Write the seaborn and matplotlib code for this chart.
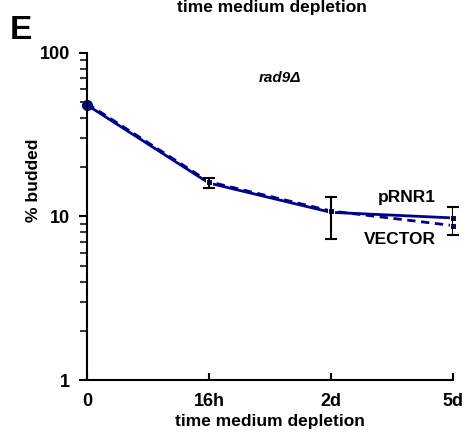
import numpy as np
import pandas as pd
import seaborn as sns
import matplotlib
matplotlib.use('Agg')
import matplotlib.pyplot as plt
from matplotlib.ticker import LogLocator, NullFormatter, FixedLocator

sns.set_style('ticks')
plt.rcParams['font.family'] = ['Liberation Sans', 'DejaVu Sans']
plt.rcParams['font.weight'] = 'bold'
plt.rcParams['text.color'] = 'black'
plt.rcParams['axes.labelcolor'] = 'black'

time_labels = ['0', '16h', '2d', '5d']
prnr1 = [48, 16.0, 10.6, 9.8]
vector = [49, 16.3, 10.8, 8.8]
err_low = [48, 15.0, 7.3, 7.7]
err_high = [48, 17.2, 13.2, 11.4]

pos = np.arange(len(time_labels))
df = pd.DataFrame({
    'pos': np.concatenate([pos, pos]),
    'budded': prnr1 + vector,
    'strain': ['pRNR1'] * 4 + ['VECTOR'] * 4,
})

fig = plt.figure(figsize=(4.65, 4.4), dpi=100)
ax = fig.add_axes([0.187, 0.136, 0.787, 0.744])

navy = '#00008B'
sns.lineplot(data=df, x='pos', y='budded', hue='strain', style='strain',
             palette={'pRNR1': navy, 'VECTOR': navy},
             dashes={'pRNR1': '', 'VECTOR': (3, 2)},
             markers={'pRNR1': 's', 'VECTOR': 's'}, markersize=5,
             linewidth=2, legend=False, ax=ax)

# first point drawn as a slightly bigger blob like the original
ax.plot(pos[:1], prnr1[:1], 'o', color=navy, markersize=7, clip_on=False)

mid = np.array(prnr1)
ax.errorbar(pos[1:], mid[1:], yerr=[mid[1:] - np.array(err_low[1:]), np.array(err_high[1:]) - mid[1:]],
            fmt='none', ecolor='black', elinewidth=1.5, capsize=4, capthick=1.5)

ax.set_yscale('log')
ax.set_ylim(1, 100)
ax.set_xlim(0, 3)
ax.yaxis.set_major_locator(FixedLocator([1, 10, 100]))
ax.set_yticklabels(['1', '10', '100'])
ax.yaxis.set_minor_locator(LogLocator(base=10, subs=np.arange(2, 10)))
ax.yaxis.set_minor_formatter(NullFormatter())
ax.set_xticks(pos)
ax.set_xticklabels(time_labels)

for s in ['top', 'right']:
    ax.spines[s].set_visible(False)
for s in ['left', 'bottom']:
    ax.spines[s].set_linewidth(1.5)
    ax.spines[s].set_color('black')
ax.tick_params(axis='y', which='major', direction='out', length=6, width=1.5,
               labelsize=13, colors='black', pad=6)
ax.tick_params(axis='y', which='minor', direction='out', length=5, width=1.3)
ax.tick_params(axis='x', which='major', direction='in', length=5, width=1.5,
               labelsize=13, colors='black', pad=9)

ax.set_xlabel('time medium depletion', fontsize=12.5, fontweight='bold', labelpad=3)
ax.set_ylabel('% budded', fontsize=12.5, fontweight='bold')
ax.yaxis.set_label_coords(-0.125, 0.61)

ax.text(1.58, 70, 'rad9Δ', fontsize=11, fontweight='bold', style='italic', ha='center', va='center')
ax.text(2.86, 13.0, 'pRNR1', fontsize=12.5, fontweight='bold', ha='right', va='center')
ax.text(2.86, 7.2, 'VECTOR', fontsize=12.5, fontweight='bold', ha='right', va='center')

fig.text(0.585, 0.984, 'time medium depletion', fontsize=12.5, fontweight='bold', ha='center', va='center')
fig.text(0.022, 0.93, 'E', fontsize=24, fontweight='bold', ha='left', va='center')

for line in ax.lines:
    line.set_clip_on(False)

fig.savefig('out.png', dpi=100)
